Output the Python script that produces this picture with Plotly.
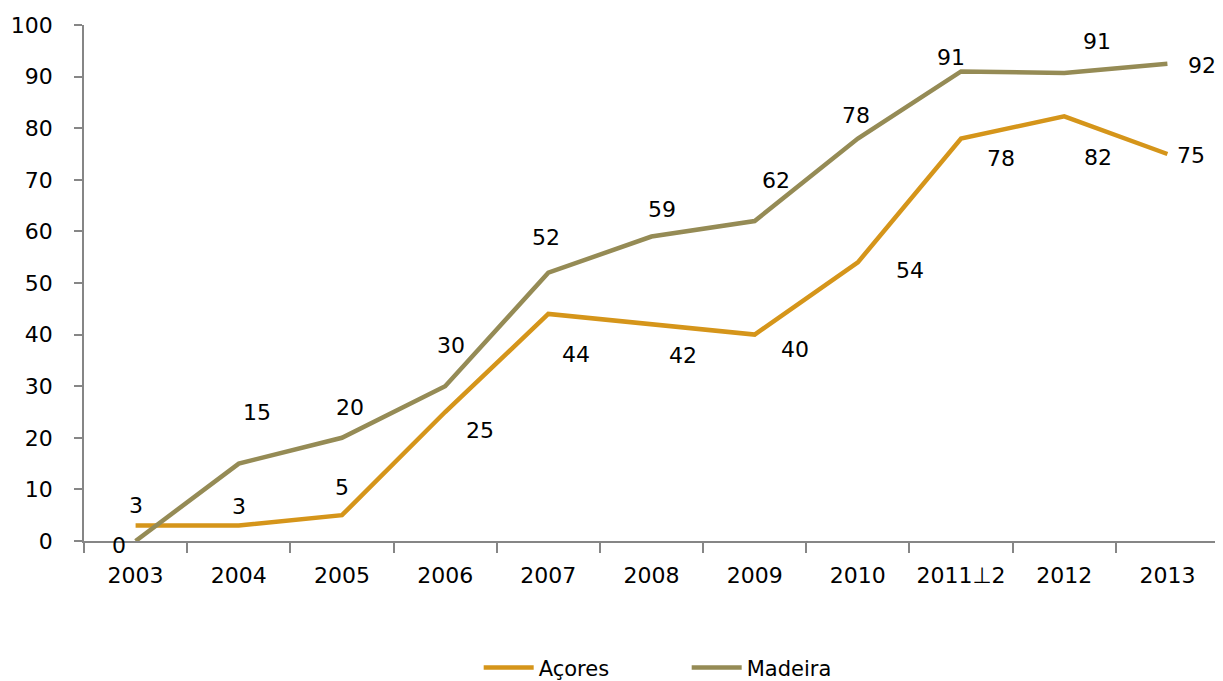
import plotly.graph_objects as go

years = ["2003", "2004", "2005", "2006", "2007", "2008", "2009", "2010", "2011⊥2", "2012", "2013"]
acores = [3, 3, 5, 25, 44, 42, 40, 54, 78, 82.3, 75]
madeira = [0, 15, 20, 30, 52, 59, 62, 78, 91, 90.7, 92.5]

# label offsets (pixels) to mimic the original placement
acores_off = [(0, 20), (0, 19), (0, 28), (35, -18), (28, -41), (31, -31), (40, -15),
              (52, -8), (40, -20), (34, -41), (24, -1)]
madeira_off = [(-17, -4), (18, 51), (8, 30), (6, 41), (-2, 35), (10, 27), (21, 41),
               (-2, 23), (-10, 14), (33, 31), (35, -2)]

FONT = "DejaVu Sans"
C_ACO = "#D5951A"
C_MAD = "#958B55"

fig = go.Figure()
fig.add_trace(go.Scatter(x=years, y=acores, mode="lines", name="Açores",
                         line=dict(color=C_ACO, width=4.5)))
fig.add_trace(go.Scatter(x=years, y=madeira, mode="lines", name="Madeira",
                         line=dict(color=C_MAD, width=4.5)))

for vals, offs in ((acores, acores_off), (madeira, madeira_off)):
    for i, (v, (dx, dy)) in enumerate(zip(vals, offs)):
        fig.add_annotation(x=i, y=v, xref="x", yref="y", text=f"{v:.0f}",
                           showarrow=False, xshift=dx, yshift=dy,
                           font=dict(family=FONT, size=22, color="black"))

# the page body adds an 8px margin, so the figure is 8px smaller
fig.update_layout(
    width=1215, height=673,
    paper_bgcolor="white", plot_bgcolor="white",
    margin=dict(l=76, r=4, t=17, b=140, autoexpand=False),
    font=dict(family=FONT, size=22, color="black"),
    showlegend=True,
    legend=dict(orientation="h", x=0.531, xanchor="center", y=-0.246, yanchor="middle",
                font=dict(family=FONT, size=21), entrywidth=143, entrywidthmode="pixels",
                itemwidth=50),
)
fig.update_xaxes(type="category", showgrid=False, showline=True, linecolor="#868686",
                 linewidth=1.5, ticks="outside", tickson="boundaries", ticklen=10,
                 tickcolor="#868686", tickwidth=1.5, tickfont=dict(size=22),
                 ticklabelstandoff=14, automargin=False,
                 range=[-0.5, 10.5], zeroline=False)
fig.update_yaxes(range=[0, 100], dtick=10, showgrid=False, showline=True,
                 linecolor="#868686", linewidth=1.5, ticks="outside", ticklen=8,
                 tickcolor="#868686", tickwidth=1.5, tickfont=dict(size=22),
                 ticklabelstandoff=17, automargin=False, zeroline=False)

fig.write_html("out.html")
